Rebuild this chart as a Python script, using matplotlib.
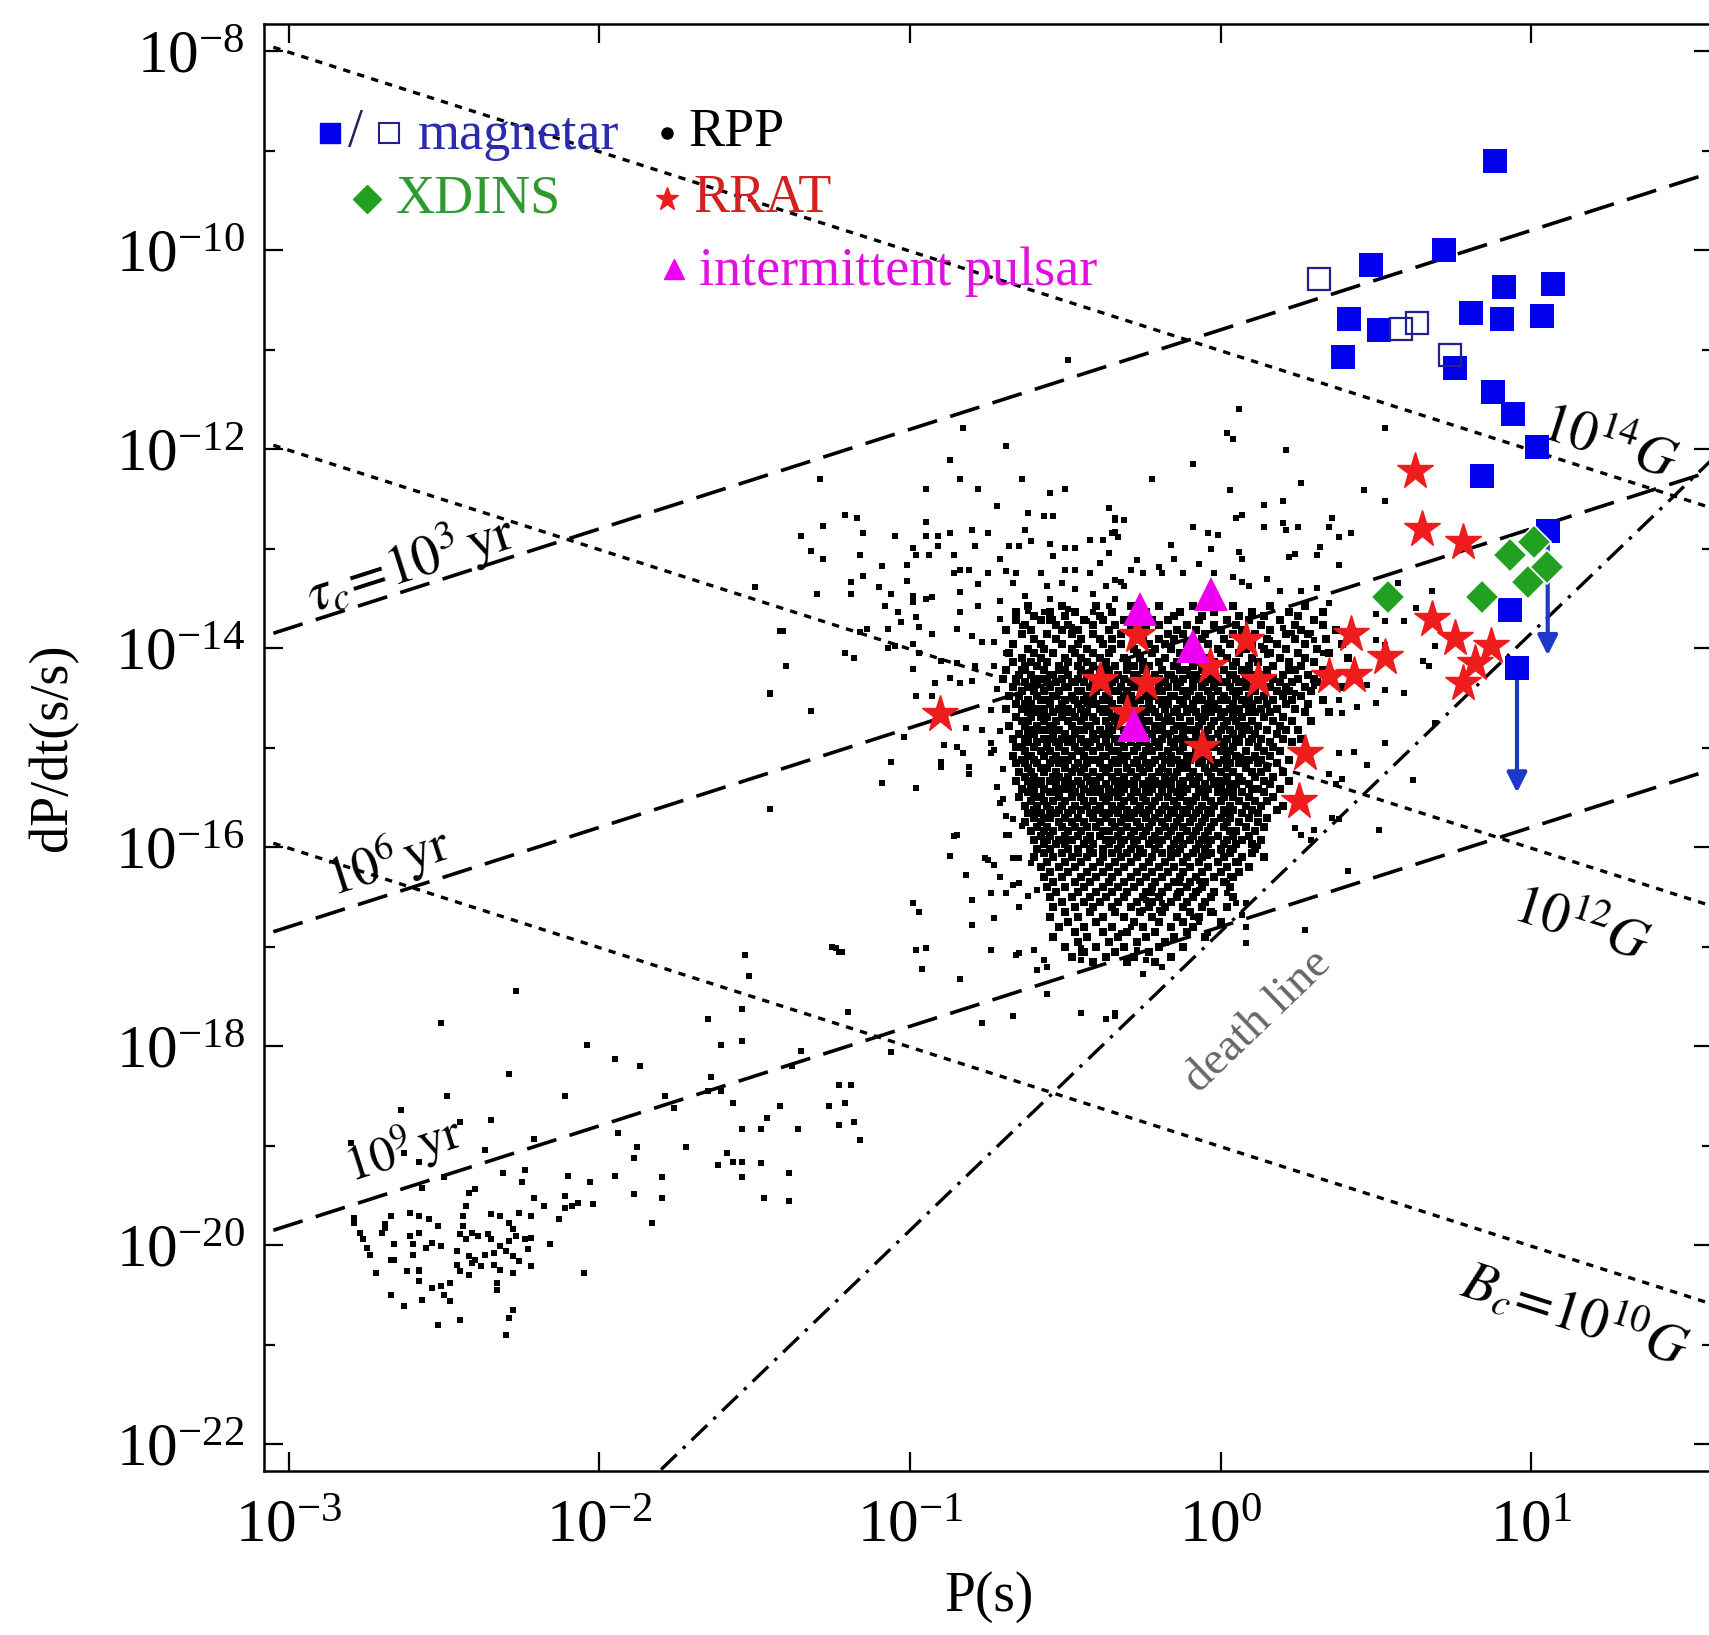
#P-Pdot diagram of neutron stars
import numpy as np
import matplotlib.pyplot as plt
from matplotlib.ticker import FixedLocator, LogFormatterMathtext, NullFormatter

plt.rcParams['font.family'] = ['Liberation Serif', 'DejaVu Serif']
plt.rcParams['mathtext.fontset'] = 'stix'

#---- data, all in log10(P [s]) , log10(Pdot [s/s]) ----
magnetar = [(0.884, -9.10), (0.484, -10.15), (0.719, -10.00), (0.912, -10.37), (1.070, -10.34),
            (0.414, -10.69), (0.509, -10.80), (0.807, -10.63), (0.905, -10.69), (1.035, -10.66),
            (0.393, -11.07), (0.754, -11.18), (0.877, -11.43), (0.940, -11.65), (1.018, -11.98),
            (0.842, -12.27), (1.053, -12.82), (0.930, -13.62), (0.954, -14.20)]
magnetar_open = [(0.316, -10.29), (0.579, -10.79), (0.632, -10.73), (0.737, -11.05)]
# upper limits: (logP, start, end of arrow)
magnetar_limits = [(1.053, -12.90, -14.10), (0.954, -14.28, -15.48)]
xdins = [(0.54, -13.49), (0.84, -13.49), (0.93, -13.06), (1.01, -12.93), (0.99, -13.33), (1.05, -13.18)]
rrat = [(-0.905, -14.66), (0.625, -12.22), (0.649, -12.80), (0.779, -12.93), (0.42, -13.86),
        (0.68, -13.71), (0.755, -13.90), (0.87, -13.98), (0.82, -14.15), (0.78, -14.35),
        (0.53, -14.09), (0.43, -14.27), (0.35, -14.28), (0.12, -14.32), (0.08, -13.92),
        (-0.27, -13.87), (-0.39, -14.32), (-0.24, -14.35), (-0.035, -14.18), (-0.30, -14.65),
        (-0.06, -14.99), (0.27, -15.05), (0.253, -15.54)]
intermittent = [(-0.26, -13.61), (-0.03, -13.46), (-0.09, -13.98), (-0.28, -14.77)]

# radio pulsars outside the dense core
rpp_sparse = [
    (-0.49, -11.10), (-0.83, -11.79), (-0.69, -11.97), (-0.87, -12.11), (-1.29, -12.30), (-0.84, -12.30),
    (-0.64, -12.30), (-0.95, -12.40), (-0.78, -12.40), (-0.55, -12.44), (-0.50, -12.40), (-0.72, -12.57),
    (-0.36, -12.59), (-0.62, -12.64), (-0.57, -12.67), (-0.54, -12.67), (-1.21, -12.66), (-1.17, -12.69),
    (-1.28, -12.77), (-0.95, -12.73), (-1.35, -12.87), (-1.15, -12.84), (-1.05, -12.87), (-0.95, -12.87),
    (-0.91, -12.87), (-0.87, -12.84), (-0.80, -12.81), (-0.75, -12.84), (-0.63, -12.81), (-0.34, -12.71),
    (-0.35, -12.84), (-1.32, -13.02), (-1.28, -13.10), (-1.16, -13.06), (-0.99, -12.99), (-0.98, -13.06),
    (-0.94, -13.06), (-0.91, -12.97), (-0.86, -13.06), (-0.79, -12.97), (-0.71, -13.10), (-0.68, -12.97),
    (-0.65, -12.97), (-0.61, -12.92), (-0.55, -12.95), (-0.50, -12.99), (-0.47, -12.99), (-0.42, -12.91),
    (-0.38, -12.91), (-0.36, -13.04), (-1.09, -13.17), (-1.01, -13.16), (-0.86, -13.24), (-0.84, -13.21),
    (-0.81, -13.21), (-0.75, -13.24), (-0.69, -13.22), (-0.66, -13.24), (-0.58, -13.24), (-0.54, -13.07),
    (-0.50, -13.21), (-0.47, -13.21), (-0.42, -13.24), (-0.39, -13.14), (-0.34, -13.31), (-1.19, -13.33),
    (-1.15, -13.27), (-1.10, -13.39), (-1.01, -13.32), (-0.78, -13.36), (-0.67, -13.34), (-0.56, -13.38),
    (-0.51, -13.34), (-0.47, -13.41), (-0.37, -13.38), (-1.30, -13.46), (-1.19, -13.46), (-1.06, -13.46),
    (-0.99, -13.48), (-0.95, -13.51), (-0.93, -13.49), (-0.84, -13.44), (-0.71, -13.53), (-0.63, -13.48),
    (-0.55, -13.51), (-0.41, -13.46), (-0.34, -13.51), (-1.08, -13.58), (-1.04, -13.64), (-0.99, -13.54),
    (-0.84, -13.64), (-0.78, -13.58), (-0.62, -13.63), (-0.57, -13.64), (-0.49, -13.61), (-0.41, -13.64),
    (-0.36, -13.58), (-1.41, -13.83), (-1.16, -13.84), (-1.14, -13.81), (-1.07, -13.81), (-1.03, -13.74),
    (-0.98, -13.69), (-0.97, -13.79), (-0.93, -13.86), (-0.85, -13.81), (-0.80, -13.88), (-0.77, -13.94),
    (-0.71, -13.71), (-0.64, -13.78), (-0.58, -13.71), (-0.54, -13.71), (-0.48, -13.79), (-0.43, -13.73),
    (-1.21, -14.05), (-1.18, -14.10), (-1.07, -14.00), (-1.05, -13.98), (-0.99, -13.96), (-0.97, -14.05),
    (-0.90, -14.13), (-0.85, -14.15), (-0.79, -14.18), (-0.73, -13.94), (-0.69, -14.05), (-1.40, -14.18),
    (-0.99, -14.21), (-0.92, -14.35), (-0.87, -14.30), (-0.84, -14.35), (-0.80, -14.33), (-0.73, -14.18),
    (-1.45, -14.45), (-1.32, -14.63), (-0.98, -14.48), (-0.93, -14.48), (-0.72, -14.41), (-0.74, -14.62),
    (-0.71, -14.83), (-0.73, -15.02), (-0.70, -15.21), (-0.72, -15.40), (-0.69, -15.88), (-0.71, -16.30),
    (0.06, -11.60), (0.02, -11.84), (0.04, -11.90), (0.21, -12.01), (-0.09, -12.15), (-0.22, -12.30),
    (0.26, -12.34), (0.53, -11.79), (0.46, -12.41), (0.53, -12.52), (0.03, -12.41), (0.14, -12.56),
    (0.20, -12.52), (0.05, -12.69), (0.07, -12.66), (-0.09, -12.78), (0.14, -12.78), (0.20, -12.74),
    (0.21, -12.81), (0.25, -12.78), (0.36, -12.69), (0.35, -12.78), (0.38, -12.88), (0.42, -12.84),
    (-0.04, -12.84), (-0.01, -12.86), (-0.03, -13.00), (-0.16, -12.96), (0.06, -13.03), (0.07, -13.10),
    (0.32, -12.98), (0.31, -13.06), (0.22, -13.08), (0.24, -13.05), (0.38, -13.16), (-0.27, -13.11),
    (-0.15, -13.10), (-0.07, -13.15), (-0.20, -13.18), (-0.19, -13.24), (-0.29, -13.21), (-0.12, -13.24),
    (-0.25, -13.24), (-0.02, -13.24), (0.04, -13.28), (0.07, -13.33), (0.09, -13.38), (0.15, -13.30),
    (0.19, -13.43), (0.26, -13.43), (0.31, -13.40), (0.35, -13.55), (0.57, -13.34), (0.68, -13.43),
    (0.63, -13.60), (0.59, -13.73), (0.50, -13.66), (0.53, -13.73), (-0.32, -13.33), (-0.31, -13.38),
    (-0.34, -12.69), (-0.31, -12.71), (-0.34, -12.83), (-0.33, -12.88), (0.20, -13.80), (0.23, -13.85),
    (0.16, -13.92), (0.13, -13.98), (0.15, -14.07), (0.29, -13.85), (0.30, -13.92), (0.33, -14.05),
    (0.50, -13.92), (0.53, -13.97), (0.69, -13.98), (0.65, -14.13), (0.67, -14.18), (0.59, -14.45),
    (0.53, -14.42), (0.47, -14.37), (0.44, -14.59), (0.38, -14.52), (0.39, -14.65), (0.30, -14.38),
    (0.24, -14.45), (0.20, -14.45), (0.69, -14.75), (0.50, -14.55),
    (0.53, -14.95), (0.47, -15.17), (0.62, -15.32), (0.38, -15.05), (0.43, -15.04), (0.39, -15.31),
    (0.37, -15.37), (0.35, -15.26), (0.38, -15.72), (0.36, -15.71), (0.51, -15.83), (0.24, -15.81),
    (0.26, -15.88), (0.30, -15.83), (0.29, -15.93), (0.41, -16.24), (0.27, -16.83), (0.08, -16.96),
    (0.08, -16.80), (0.07, -16.68), (0.05, -16.56), (0.08, -16.56), (-0.02, -16.66), (-0.07, -16.73),
    (-0.04, -16.86), (0.02, -16.46), (0.02, -16.36), (0.03, -16.29), (0.06, -16.16), (-0.04, -16.09),
    (0.00, -16.04), (0.03, -16.01), (0.12, -15.99), (0.10, -16.06), (-0.07, -16.34), (-0.07, -16.43),
    (-0.13, -16.36), (-0.14, -16.46), (-0.17, -16.39), (-0.19, -16.56), (-0.20, -16.63), (-0.22, -16.46),
    (-0.24, -16.53), (-0.25, -16.63), (-0.29, -16.80), (-0.30, -16.86), (-0.27, -17.03), (-0.24, -17.13),
    (-0.19, -17.20), (-0.25, -17.27), (-0.34, -17.67), (-0.07, -16.75), (-0.09, -16.70), (-0.32, -16.86),
    (-1.02, -14.89), (-1.06, -15.14), (-1.09, -15.36), (-0.98, -15.41), (-1.45, -15.62), (-0.90, -15.14),
    (-0.90, -15.19), (-0.89, -14.97), (-0.85, -14.99), (-0.83, -15.05), (-0.81, -15.19), (-0.81, -15.26),
    (-0.82, -14.80), (-0.77, -14.82), (-0.74, -14.95), (-0.74, -15.05), (-0.86, -15.89), (-0.85, -15.88),
    (-0.87, -16.09), (-0.82, -16.28), (-0.99, -16.56), (-0.97, -16.65), (-0.80, -16.53), (-0.74, -16.46),
    (-0.73, -16.71), (-0.80, -16.78), (-1.25, -17.00), (-1.23, -17.05), (-0.98, -17.03), (-0.95, -17.01),
    (-0.96, -17.22), (-0.84, -17.33), (-0.74, -17.03), (-0.66, -17.08), (-0.65, -17.06), (-0.60, -17.03),
    (-0.57, -17.13), (-0.56, -17.20), (-0.59, -17.23), (-0.56, -17.48), (-0.67, -17.70), (-0.77, -17.77),
    (-0.45, -17.67), (-0.37, -17.73), (-0.34, -17.70), (-0.45, -17.06), (-0.45, -17.13), (-0.45, -17.01),
    (-0.65, -16.60), (-0.69, -16.46), (-0.67, -16.38), (-0.65, -16.36), (-0.62, -16.49), (-0.59, -16.43),
    (-0.67, -16.11), (-0.65, -16.11), (-0.61, -16.16), (-0.75, -16.13), (-0.73, -16.18), (-0.76, -16.11),
    (-0.68, -15.88), (-0.64, -15.79), (-0.67, -15.72), (-0.69, -15.69), (-0.71, -15.56), (-0.70, -15.52),
    (-1.50, -13.39), (-1.42, -13.83), (-1.45, -14.46), (-1.45, -15.62), (-1.53, -17.08), (-1.52, -17.29),
]

# millisecond and mildly recycled pulsars (lower left)
rpp_msp = [
    (-1.24, -17.01), (-1.22, -17.05), (-2.27, -17.45), (-1.54, -17.63),
    (-1.65, -17.73), (-1.20, -17.66), (-2.51, -17.77), (-1.61, -17.99), (-1.54, -17.95), (-2.04, -17.99),
    (-1.35, -18.05), (-1.38, -18.20), (-1.06, -18.06), (-1.95, -18.13), (-1.87, -18.20), (-2.29, -18.28),
    (-1.64, -18.31), (-1.23, -18.39), (-1.19, -18.39), (-2.49, -18.50), (-2.11, -18.50), (-1.79, -18.50),
    (-1.76, -18.62), (-1.65, -18.45), (-1.61, -18.45), (-1.57, -18.57), (-1.42, -18.60), (-1.26, -18.60),
    (-1.21, -18.57), (-2.64, -18.64), (-2.45, -18.76), (-2.35, -18.74), (-1.54, -18.83), (-1.48, -18.83),
    (-1.46, -18.72), (-1.36, -18.83), (-1.23, -18.79), (-1.18, -18.76), (-1.16, -18.94), (-2.21, -18.93),
    (-1.94, -18.87), (-2.37, -19.04), (-2.58, -19.16), (-2.63, -19.07), (-2.80, -18.97), (-1.88, -19.01),
    (-1.89, -19.12), (-1.72, -19.01), (-1.59, -19.07), (-1.62, -19.19), (-1.57, -19.16), (-1.54, -19.16),
    (-1.48, -19.17), (-1.54, -19.31), (-1.39, -19.27), (-2.31, -19.27), (-2.24, -19.24), (-2.25, -19.37),
    (-2.10, -19.30), (-2.03, -19.37), (-1.95, -19.30), (-1.80, -19.32), (-1.80, -19.53), (-1.89, -19.49),
    (-1.47, -19.53), (-1.39, -19.56), (-2.50, -19.32), (-2.57, -19.43), (-2.40, -19.44), (-2.42, -19.48),
    (-2.21, -19.53), (-2.18, -19.61), (-2.22, -19.71), (-2.11, -19.51), (-2.09, -19.61), (-2.07, -19.58),
    (-2.02, -19.59), (-2.11, -19.63), (-2.13, -19.74), (-1.83, -19.78), (-2.79, -19.73), (-2.79, -19.78),
    (-2.67, -19.71), (-2.69, -19.79), (-2.61, -19.68), (-2.58, -19.71), (-2.55, -19.74), (-2.52, -19.81),
    (-2.44, -19.71), (-2.44, -19.81), (-2.43, -19.61), (-2.35, -19.69), (-2.32, -19.71), (-2.29, -19.78),
    (-2.28, -19.84), (-2.26, -19.68), (-2.77, -19.88), (-2.76, -19.94), (-2.75, -20.03), (-2.70, -19.88),
    (-2.69, -19.83), (-2.66, -19.99), (-2.67, -20.15), (-2.61, -19.91), (-2.58, -19.88), (-2.60, -19.99),
    (-2.56, -20.03), (-2.54, -19.98), (-2.51, -20.01), (-2.45, -19.89), (-2.43, -19.94), (-2.41, -19.88),
    (-2.39, -19.91), (-2.36, -19.89), (-2.35, -19.94), (-2.32, -20.01), (-2.29, -19.96), (-2.27, -19.91),
    (-2.24, -19.94), (-2.22, -19.93), (-2.23, -20.04), (-2.16, -19.99), (-2.46, -20.06), (-2.42, -20.11),
    (-2.40, -20.15), (-2.37, -20.10), (-2.34, -20.08), (-2.30, -20.06), (-2.28, -20.11), (-2.26, -20.16),
    (-2.74, -20.10), (-2.66, -20.15), (-2.60, -20.10), (-2.58, -20.25), (-2.46, -20.20), (-2.41, -20.18),
    (-2.38, -20.21), (-2.34, -20.20), (-2.32, -20.25), (-2.28, -20.28), (-2.22, -20.21), (-2.72, -20.28),
    (-2.62, -20.26), (-2.58, -20.26), (-2.45, -20.26), (-2.42, -20.30), (-2.58, -20.36), (-2.54, -20.43),
    (-2.51, -20.41), (-2.48, -20.38), (-2.33, -20.38), (-2.33, -20.45), (-2.50, -20.50), (-2.48, -20.56),
    (-2.67, -20.50), (-2.63, -20.61), (-2.57, -20.55), (-2.28, -20.65), (-2.29, -20.73), (-2.52, -20.80),
    (-2.45, -20.75), (-2.30, -20.90), (-2.05, -20.28),
]

# dense core of normal pulsars, read row by row: (log Pdot, [log P, ...])
rpp_core = [
    (-13.58, [-0.62, -0.51, -0.40, -0.29, -0.20, -0.09, 0.04, 0.16, 0.27]),
    (-13.64, [-0.66, -0.55, -0.47, -0.35, -0.24, -0.13, -0.02, 0.10, 0.22, 0.33]),
    (-13.68, [-0.60, -0.50, -0.39, -0.28, -0.15, -0.06, 0.06, 0.14, 0.25]),
    (-13.72, [-0.66, -0.58, -0.55, -0.44, -0.38, -0.31, -0.22, -0.17, -0.07, 0.02, 0.09, 0.19, 0.30]),
    (-13.77, [-0.63, -0.53, -0.49, -0.41, -0.34, -0.26, -0.20, -0.11, -0.02, 0.05, 0.13, 0.24, 0.33]),
    (-13.82, [-0.69, -0.61, -0.51, -0.46, -0.36, -0.29, -0.24, -0.14, -0.08, 0.00, 0.07, 0.16, 0.26, 0.37]),
    (-13.86, [-0.64, -0.56, -0.48, -0.41, -0.32, -0.27, -0.17, -0.12, -0.05, 0.04, 0.11, 0.21, 0.28]),
    (-13.91, [-0.60, -0.53, -0.45, -0.39, -0.35, -0.25, -0.20, -0.15, -0.06, 0.01, 0.07, 0.15, 0.24, 0.34]),
    (-13.96, [-0.67, -0.58, -0.51, -0.46, -0.38, -0.32, -0.23, -0.18, -0.11, -0.04, 0.03, 0.10, 0.18, 0.27, 0.39]),
    (-14.01, [-0.62, -0.57, -0.48, -0.43, -0.35, -0.28, -0.21, -0.16, -0.10, -0.01, 0.08, 0.14, 0.21, 0.31]),
    (-14.05, [-0.68, -0.60, -0.54, -0.47, -0.41, -0.36, -0.27, -0.22, -0.13, -0.07, 0.00, 0.06, 0.16, 0.25, 0.35]),
    (-14.10, [-0.64, -0.58, -0.50, -0.45, -0.39, -0.31, -0.26, -0.18, -0.12, -0.04, 0.02, 0.10, 0.19, 0.27, 0.41]),
    (-14.14, [-0.67, -0.61, -0.56, -0.49, -0.43, -0.37, -0.30, -0.25, -0.20, -0.14, -0.08, -0.02, 0.05, 0.12, 0.22, 0.30]),
    (-14.18, [-0.63, -0.59, -0.52, -0.46, -0.41, -0.34, -0.28, -0.23, -0.15, -0.09, -0.03, 0.04, 0.09, 0.17, 0.26]),
    (-14.22, [-0.69, -0.64, -0.63, -0.57, -0.52, -0.50, -0.45, -0.39, -0.37, -0.36, -0.30, -0.25, -0.24, -0.19, -0.13, -0.11, -0.06, -0.04, 0.01, 0.07, 0.09, 0.15, 0.22, 0.24, 0.33]),
    (-14.27, [-0.65, -0.61, -0.55, -0.54, -0.49, -0.43, -0.42, -0.38, -0.33, -0.28, -0.27, -0.21, -0.17, -0.16, -0.10, -0.08, -0.02, 0.03, 0.04, 0.11, 0.14, 0.20, 0.28, 0.36]),
    (-14.31, [-0.70, -0.66, -0.60, -0.58, -0.56, -0.51, -0.46, -0.41, -0.40, -0.34, -0.31, -0.26, -0.22, -0.20, -0.15, -0.12, -0.07, -0.03, -0.01, 0.05, 0.08, 0.12, 0.17, 0.25, 0.30]),
    (-14.34, [-0.63, -0.59, -0.53, -0.48, -0.47, -0.44, -0.37, -0.35, -0.29, -0.24, -0.23, -0.18, -0.13, -0.09, -0.05, 0.00, 0.02, 0.06, 0.13, 0.19, 0.23, 0.31]),
    (-14.39, [-0.67, -0.62, -0.61, -0.55, -0.50, -0.49, -0.42, -0.39, -0.36, -0.32, -0.28, -0.26, -0.20, -0.17, -0.14, -0.09, -0.06, -0.02, 0.03, 0.08, 0.10, 0.16, 0.21, 0.27, 0.39]),
    (-14.43, [-0.64, -0.60, -0.57, -0.52, -0.46, -0.45, -0.40, -0.34, -0.33, -0.30, -0.25, -0.21, -0.19, -0.12, -0.10, -0.04, -0.01, 0.04, 0.06, 0.11, 0.18, 0.22, 0.29]),
    (-14.48, [-0.68, -0.65, -0.59, -0.54, -0.53, -0.48, -0.43, -0.41, -0.37, -0.31, -0.29, -0.24, -0.22, -0.16, -0.15, -0.11, -0.07, -0.03, 0.01, 0.05, 0.09, 0.14, 0.20, 0.26]),
    (-14.52, [-0.62, -0.58, -0.56, -0.50, -0.47, -0.44, -0.38, -0.36, -0.32, -0.27, -0.26, -0.20, -0.18, -0.13, -0.08, -0.06, 0.00, 0.02, 0.07, 0.12, 0.17, 0.23, 0.33]),
    (-14.56, [-0.66, -0.63, -0.61, -0.55, -0.51, -0.46, -0.42, -0.40, -0.35, -0.30, -0.28, -0.23, -0.19, -0.17, -0.12, -0.09, -0.04, -0.02, 0.04, 0.08, 0.10, 0.15, 0.21, 0.28]),
    (-14.61, [-0.69, -0.64, -0.59, -0.57, -0.52, -0.49, -0.45, -0.39, -0.37, -0.33, -0.29, -0.25, -0.22, -0.18, -0.14, -0.10, -0.05, -0.01, 0.03, 0.06, 0.13, 0.18, 0.24]),
    (-14.64, [-0.62, -0.60, -0.54, -0.50, -0.48, -0.43, -0.38, -0.36, -0.31, -0.27, -0.24, -0.21, -0.15, -0.11, -0.08, -0.03, 0.01, 0.05, 0.09, 0.11, 0.16, 0.27, 0.35]),
    (-14.69, [-0.66, -0.61, -0.58, -0.56, -0.51, -0.47, -0.44, -0.41, -0.35, -0.32, -0.30, -0.26, -0.20, -0.17, -0.13, -0.07, -0.05, 0.00, 0.04, 0.07, 0.14, 0.20]),
    (-14.73, [-0.64, -0.62, -0.57, -0.53, -0.49, -0.45, -0.40, -0.37, -0.34, -0.28, -0.25, -0.23, -0.18, -0.16, -0.10, -0.06, -0.02, 0.02, 0.05, 0.10, 0.17, 0.23, 0.29]),
    (-14.78, [-0.68, -0.63, -0.59, -0.55, -0.54, -0.48, -0.43, -0.42, -0.36, -0.33, -0.29, -0.26, -0.21, -0.19, -0.14, -0.12, -0.07, -0.03, 0.01, 0.06, 0.08, 0.12, 0.19]),
    (-14.82, [-0.61, -0.58, -0.56, -0.52, -0.46, -0.44, -0.39, -0.35, -0.31, -0.27, -0.24, -0.20, -0.15, -0.11, -0.09, -0.04, 0.00, 0.03, 0.09, 0.15, 0.21, 0.25]),
    (-14.86, [-0.65, -0.62, -0.60, -0.54, -0.50, -0.47, -0.41, -0.38, -0.36, -0.30, -0.28, -0.22, -0.18, -0.17, -0.12, -0.08, -0.05, -0.01, 0.04, 0.07, 0.11, 0.18]),
    (-14.91, [-0.67, -0.63, -0.57, -0.55, -0.51, -0.48, -0.45, -0.40, -0.34, -0.32, -0.26, -0.24, -0.19, -0.14, -0.13, -0.07, -0.03, 0.02, 0.05, 0.10, 0.13, 0.20, 0.26]),
    (-14.94, [-0.62, -0.59, -0.53, -0.49, -0.44, -0.42, -0.37, -0.33, -0.29, -0.25, -0.21, -0.16, -0.11, -0.09, -0.04, 0.00, 0.06, 0.09, 0.16, 0.23]),
    (-14.99, [-0.66, -0.64, -0.60, -0.56, -0.52, -0.47, -0.43, -0.39, -0.36, -0.31, -0.27, -0.23, -0.20, -0.15, -0.12, -0.06, -0.02, 0.01, 0.04, 0.12, 0.17]),
    (-15.03, [-0.63, -0.58, -0.55, -0.50, -0.46, -0.45, -0.41, -0.35, -0.33, -0.28, -0.24, -0.22, -0.17, -0.13, -0.08, -0.05, 0.00, 0.03, 0.08, 0.14, 0.19, 0.27]),
    (-15.08, [-0.67, -0.62, -0.61, -0.57, -0.53, -0.48, -0.44, -0.38, -0.37, -0.32, -0.30, -0.25, -0.19, -0.16, -0.11, -0.09, -0.04, 0.02, 0.05, 0.11, 0.16]),
    (-15.12, [-0.64, -0.60, -0.54, -0.51, -0.49, -0.42, -0.40, -0.34, -0.31, -0.27, -0.21, -0.18, -0.14, -0.10, -0.06, -0.03, 0.01, 0.07, 0.09, 0.13, 0.22]),
    (-15.15, [-0.66, -0.63, -0.59, -0.55, -0.52, -0.46, -0.43, -0.39, -0.35, -0.33, -0.28, -0.24, -0.22, -0.16, -0.12, -0.07, -0.01, 0.03, 0.06, 0.12, 0.18]),
    (-15.20, [-0.62, -0.58, -0.56, -0.50, -0.47, -0.44, -0.38, -0.36, -0.30, -0.26, -0.23, -0.19, -0.13, -0.11, -0.05, -0.02, 0.02, 0.08, 0.15]),
    (-15.24, [-0.65, -0.61, -0.57, -0.53, -0.48, -0.45, -0.41, -0.37, -0.33, -0.29, -0.25, -0.20, -0.17, -0.14, -0.09, -0.04, 0.00, 0.04, 0.10, 0.13, 0.20]),
    (-15.29, [-0.63, -0.60, -0.54, -0.52, -0.49, -0.43, -0.39, -0.35, -0.31, -0.27, -0.22, -0.18, -0.15, -0.10, -0.07, -0.03, 0.02, 0.06, 0.11, 0.17]),
    (-15.33, [-0.66, -0.62, -0.58, -0.55, -0.50, -0.46, -0.42, -0.40, -0.34, -0.32, -0.28, -0.23, -0.21, -0.16, -0.12, -0.08, -0.01, 0.01, 0.07, 0.14, 0.22]),
    (-15.37, [-0.61, -0.59, -0.53, -0.48, -0.45, -0.41, -0.37, -0.33, -0.30, -0.25, -0.20, -0.18, -0.13, -0.09, -0.05, -0.02, 0.03, 0.05, 0.09, 0.16]),
    (-15.42, [-0.64, -0.60, -0.57, -0.51, -0.49, -0.44, -0.39, -0.36, -0.31, -0.28, -0.24, -0.22, -0.16, -0.11, -0.07, -0.04, 0.00, 0.04, 0.10, 0.12, 0.19]),
    (-15.45, [-0.62, -0.55, -0.53, -0.47, -0.42, -0.40, -0.34, -0.32, -0.27, -0.23, -0.19, -0.14, -0.12, -0.06, -0.01, 0.02, 0.07, 0.14]),
    (-15.50, [-0.65, -0.60, -0.58, -0.52, -0.48, -0.45, -0.38, -0.36, -0.33, -0.29, -0.25, -0.20, -0.17, -0.13, -0.08, -0.05, 0.01, 0.04, 0.09, 0.17]),
    (-15.54, [-0.61, -0.57, -0.54, -0.50, -0.44, -0.41, -0.37, -0.31, -0.28, -0.24, -0.21, -0.15, -0.11, -0.09, -0.03, 0.00, 0.06, 0.11, 0.15]),
    (-15.59, [-0.63, -0.59, -0.56, -0.51, -0.47, -0.43, -0.39, -0.35, -0.32, -0.26, -0.22, -0.18, -0.14, -0.10, -0.06, -0.02, 0.03, 0.08, 0.13, 0.20]),
    (-15.63, [-0.60, -0.55, -0.52, -0.48, -0.45, -0.40, -0.34, -0.30, -0.27, -0.23, -0.19, -0.16, -0.12, -0.07, -0.04, 0.01, 0.04, 0.10, 0.18]),
    (-15.66, [-0.62, -0.58, -0.53, -0.49, -0.42, -0.38, -0.36, -0.33, -0.28, -0.25, -0.20, -0.15, -0.11, -0.08, -0.03, 0.02, 0.07, 0.12]),
    (-15.71, [-0.60, -0.57, -0.55, -0.50, -0.46, -0.41, -0.37, -0.31, -0.29, -0.24, -0.21, -0.17, -0.13, -0.09, -0.05, 0.00, 0.03, 0.09, 0.15]),
    (-15.75, [-0.63, -0.58, -0.52, -0.48, -0.44, -0.39, -0.35, -0.32, -0.27, -0.22, -0.19, -0.14, -0.10, -0.06, -0.02, 0.02, 0.06, 0.12]),
    (-15.80, [-0.59, -0.56, -0.51, -0.47, -0.43, -0.40, -0.34, -0.30, -0.26, -0.23, -0.18, -0.15, -0.12, -0.07, -0.03, 0.01, 0.08, 0.14]),
    (-15.84, [-0.61, -0.57, -0.54, -0.49, -0.45, -0.38, -0.36, -0.32, -0.28, -0.24, -0.20, -0.16, -0.11, -0.08, -0.04, 0.03, 0.05, 0.11]),
    (-15.89, [-0.58, -0.55, -0.50, -0.46, -0.42, -0.39, -0.33, -0.29, -0.25, -0.21, -0.17, -0.13, -0.09, -0.05, -0.01, 0.04, 0.09]),
    (-15.93, [-0.60, -0.56, -0.52, -0.48, -0.43, -0.37, -0.35, -0.31, -0.27, -0.22, -0.19, -0.14, -0.10, -0.06, -0.03, 0.02, 0.07, 0.13]),
    (-15.97, [-0.57, -0.53, -0.50, -0.44, -0.41, -0.36, -0.32, -0.28, -0.23, -0.20, -0.15, -0.12, -0.07, -0.04, 0.01, 0.05, 0.10]),
    (-16.02, [-0.59, -0.55, -0.49, -0.46, -0.42, -0.38, -0.33, -0.29, -0.26, -0.21, -0.16, -0.13, -0.08, -0.05, 0.00, 0.04, 0.11]),
    (-16.06, [-0.57, -0.51, -0.46, -0.41, -0.35, -0.30, -0.25, -0.19, -0.14, -0.09, -0.03, 0.03, 0.10]),
    (-16.10, [-0.60, -0.54, -0.48, -0.43, -0.38, -0.32, -0.27, -0.22, -0.16, -0.11, -0.06, 0.01, 0.07, 0.14]),
    (-16.15, [-0.56, -0.50, -0.45, -0.39, -0.34, -0.29, -0.23, -0.18, -0.12, -0.07, -0.01, 0.05]),
    (-16.20, [-0.58, -0.52, -0.47, -0.41, -0.36, -0.31, -0.25, -0.20, -0.15, -0.10, -0.04, 0.02, 0.09]),
    (-16.25, [-0.55, -0.49, -0.43, -0.38, -0.33, -0.27, -0.22, -0.17, -0.12, -0.06, 0.00, 0.06]),
    (-16.30, [-0.57, -0.51, -0.45, -0.40, -0.35, -0.29, -0.24, -0.19, -0.13, -0.08, -0.02, 0.04]),
    (-16.35, [-0.54, -0.47, -0.42, -0.36, -0.31, -0.26, -0.21, -0.15, -0.10, -0.05, 0.01]),
    (-16.40, [-0.56, -0.50, -0.44, -0.38, -0.33, -0.28, -0.22, -0.17, -0.11, -0.06, 0.03]),
    (-16.45, [-0.53, -0.46, -0.40, -0.35, -0.30, -0.24, -0.19, -0.13, -0.08, -0.02]),
    (-16.50, [-0.55, -0.48, -0.42, -0.37, -0.31, -0.25, -0.20, -0.14, -0.09, -0.03, 0.04]),
    (-16.55, [-0.51, -0.44, -0.39, -0.33, -0.27, -0.22, -0.16, -0.11, -0.05]),
    (-16.60, [-0.54, -0.47, -0.41, -0.35, -0.29, -0.23, -0.18, -0.12, -0.06, 0.02]),
    (-16.65, [-0.50, -0.42, -0.34, -0.26, -0.19, -0.10, -0.03]),
    (-16.70, [-0.55, -0.46, -0.38, -0.31, -0.22, -0.14, -0.07]),
    (-16.75, [-0.49, -0.40, -0.28, -0.20, -0.12, 0.00]),
    (-16.80, [-0.52, -0.44, -0.35, -0.25, -0.16, -0.09]),
    (-16.85, [-0.47, -0.38, -0.30, -0.21, -0.11]),
    (-16.90, [-0.54, -0.43, -0.33, -0.24, -0.15, -0.05]),
    (-16.95, [-0.46, -0.36, -0.27, -0.18]),
    (-17.00, [-0.50, -0.40, -0.31, -0.20, -0.12]),
    (-17.05, [-0.44, -0.34, -0.23]),
    (-17.10, [-0.48, -0.37, -0.28, -0.16]),
    (-17.15, [-0.41, -0.30, -0.21]),
]

ages_yr = [1e3, 1e6, 1e9]
fields_G = [1e10, 1e12, 1e14]

#---- figure ----
fig = plt.figure(figsize=(17.09, 16.35), dpi=100)
ax = fig.add_axes([0.1545, 0.1003, 0.848, 0.8850])
ax.set_xscale('log')
ax.set_yscale('log')
ax.set_xlim(10**-3.08, 10**1.586)
ax.set_ylim(10**-22.27, 10**-7.727)

# lines of constant age and field, and the death line
P = np.logspace(-3.05, 1.7, 300)
yr = 3.156e7
for t in ages_yr:
    ax.plot(P, P / (2 * t * yr), color='black', lw=2.6, dashes=(8.5, 3.8), zorder=1)
for B in fields_G:
    ax.plot(P, (B / 3.2e19)**2 / P, color='black', lw=2.4, dashes=(2.2, 2.2), zorder=1)
Pd = np.logspace(-1.9, 1.6, 100)
ax.plot(Pd, 10**-16.85 * Pd**3, color='black', lw=2.4, dashes=(6.5, 2.6, 1.0, 2.6), zorder=1)

def unpack(pts):
    lp, lpd = zip(*pts)
    return 10**np.array(lp), 10**np.array(lpd)

core = [(lp, row) for row, lps in rpp_core for lp in lps]
px, py = unpack(rpp_sparse + rpp_msp)
cx, cy = unpack(core)

ax.plot(cx, cy, 's', color='black', ms=5.6, mew=0, zorder=3)
ax.plot(px, py, 's', color='black', ms=4.7, mew=0, zorder=3)
rx, ry = unpack(rrat)
ax.plot(rx, ry, '*', color='#ee1c1c', ms=28, mec='#ee1c1c', zorder=4)
ix, iy = unpack(intermittent)
ax.plot(ix, iy, '^', color='#f000f0', ms=25, mew=0, zorder=5)
mx, my = unpack(magnetar)
ax.plot(mx, my, 's', color='#0000ee', ms=17, mew=0, zorder=6)
ox, oy = unpack(magnetar_open)
ax.plot(ox, oy, 's', mfc='none', mec='#22228a', ms=16, mew=1.6, zorder=6)
xx, xy = unpack(xdins)
ax.plot(xx, xy, 'D', color='#22a022', ms=17, mec='white', mew=1.2, zorder=6)
for lp, a, b in magnetar_limits:
    ax.annotate('', xy=(10**lp, 10**b), xytext=(10**lp, 10**a),
                arrowprops=dict(arrowstyle='-|>', color='#2038c8', lw=3, mutation_scale=30), zorder=5)

# annotations along the lines
ang_age = np.degrees(np.arctan(99.5 / 310.5))
ang_death = np.degrees(np.arctan(3 * 99.5 / 310.5))
ax.text(10**-2.61, 10**-13.14, r'$\tau_c\!=\!10^3\,\mathrm{yr}$', fontsize=40, rotation=ang_age,
        ha='center', va='center')
ax.text(10**-2.68, 10**-16.14, r'$10^6\,\mathrm{yr}$', fontsize=38, rotation=ang_age, ha='center', va='center')
ax.text(10**-2.63, 10**-19.04, r'$10^9\,\mathrm{yr}$', fontsize=36, rotation=ang_age, ha='center', va='center')
ax.text(10**0.12, 10**-17.75, 'death line', fontsize=34, color='#666666', rotation=ang_death,
        ha='center', va='center')
ax.text(10**1.25, 10**-11.95, r'$\mathit{10^{14}G}$', fontsize=40, rotation=-ang_age, ha='center', va='center')
ax.text(10**1.16, 10**-16.80, r'$\mathit{10^{12}G}$', fontsize=40, rotation=-ang_age, ha='center', va='center')
ax.text(10**1.14, 10**-20.70, r'$\mathit{B_c\!=\!10^{10}G}$', fontsize=40, rotation=-ang_age,
        ha='center', va='center')

# legend drawn by hand
tr = ax.transAxes
fs = 39
ax.plot([0.0456], [0.925], 's', color='#0000ee', ms=15, transform=tr, clip_on=False)
ax.text(0.063, 0.925, '/', fontsize=fs, color='#202060', transform=tr, ha='center', va='center')
ax.plot([0.0865], [0.925], 's', mfc='white', mec='#22228a', ms=15, mew=1.5, transform=tr)
ax.text(0.106, 0.923, 'magnetar', fontsize=fs, color='#2b2bb0', transform=tr, va='center')
ax.plot([0.278], [0.925], 'o', color='black', ms=8, transform=tr)
ax.text(0.293, 0.925, 'RPP', fontsize=fs, color='black', transform=tr, va='center')
ax.plot([0.071], [0.879], 'D', color='#22a022', ms=14, transform=tr)
ax.text(0.091, 0.879, 'XDINS', fontsize=fs, color='#2f9a2f', transform=tr, va='center')
ax.plot([0.278], [0.879], '*', color='#ee1c1c', ms=17, transform=tr)
ax.text(0.296, 0.879, 'RRAT', fontsize=fs, color='#d42020', transform=tr, va='center')
ax.plot([0.283], [0.831], '^', color='#f000f0', ms=15, transform=tr)
ax.text(0.300, 0.829, 'intermittent pulsar', fontsize=fs, color='#e010e0', transform=tr, va='center')

# axes and ticks
ax.xaxis.set_major_locator(FixedLocator([1e-3, 1e-2, 1e-1, 1e0, 1e1]))
ax.xaxis.set_minor_locator(FixedLocator([]))
ax.yaxis.set_major_locator(FixedLocator([10.0**k for k in range(-22, -7, 2)]))
ax.yaxis.set_minor_locator(FixedLocator([10.0**k for k in range(-21, -7, 2)]))
ax.xaxis.set_major_formatter(LogFormatterMathtext())
ax.yaxis.set_major_formatter(LogFormatterMathtext())
ax.yaxis.set_minor_formatter(NullFormatter())
ax.tick_params(which='both', direction='in', top=True, right=True, labelsize=44, width=1.6)
ax.tick_params(which='major', length=14, pad=14)
ax.tick_params(axis='x', which='major', pad=20)
ax.tick_params(which='minor', length=8)
for s in ax.spines.values():
    s.set_linewidth(1.8)

ax.set_xlabel('P(s)', fontsize=40, labelpad=12)
ax.set_ylabel('dP/dt(s/s)', fontsize=39, labelpad=26)

fig.savefig('out.png', dpi=100)
